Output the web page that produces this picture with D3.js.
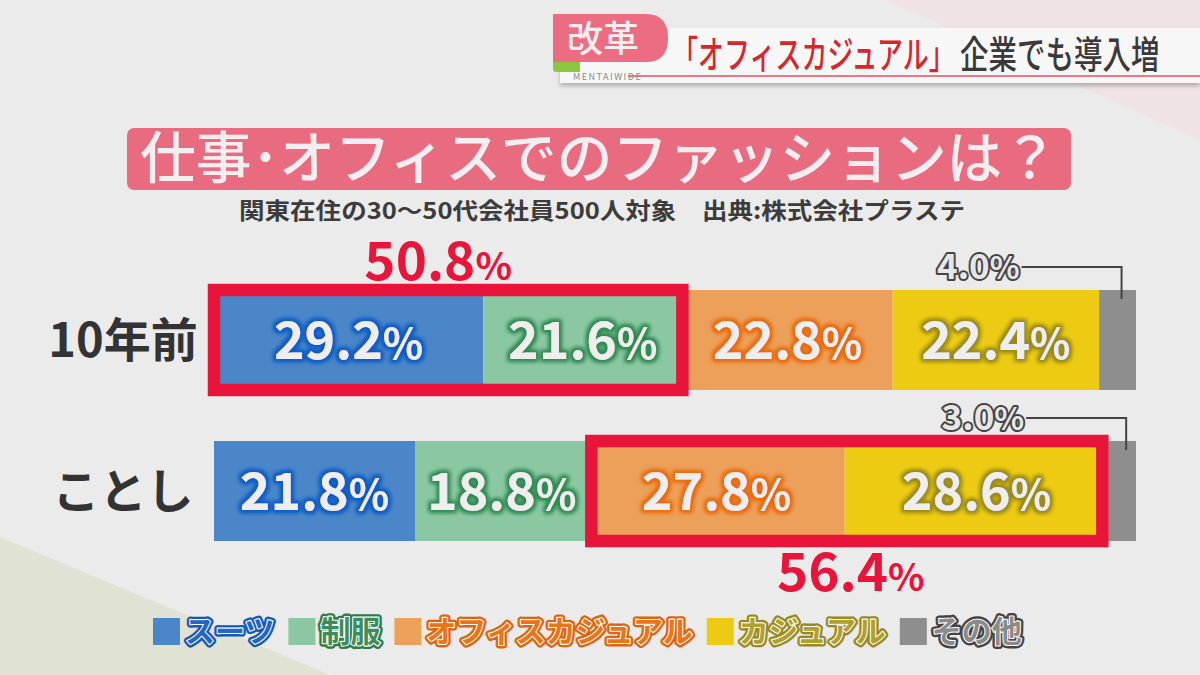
<!DOCTYPE html>
<html><head><meta charset="utf-8">
<script src="https://cdn.jsdelivr.net/npm/d3@7/dist/d3.min.js"></script>
<style>
html,body{margin:0;padding:0;background:#ebebeb;}
svg{display:block;font-family:"Noto Sans CJK JP","Noto Sans",sans-serif;}
</style></head>
<body>
<svg id="chart" width="1200" height="675"></svg>
<script>
// ---- data ----
const categories = ["10年前", "ことし"];
const seriesNames = ["スーツ", "制服", "オフィスカジュアル", "カジュアル", "その他"];
const values10YearsAgo = [29.2, 21.6, 22.8, 22.4, 4.0];
const valuesThisYear = [21.8, 18.8, 27.8, 28.6, 3.0];
const highlightSeries = [[0, 1], [2, 3]];      // series indices boxed per row
const highlightTotals = ["50.8", "56.4"];
const titleText = "仕事･オフィスでのファッションは？";
const subtitleText = "関東在住の30～50代会社員500人対象　出典:株式会社プラステ";
const headerTag = "改革";
const headerRed = "「オフィスカジュアル」";
const headerDark = "企業でも導入増";

const rowValues = [values10YearsAgo, valuesThisYear];
const barColors = ["#4a86c8", "#8bc7a2", "#eca05a", "#eccb12", "#8e8e8e"];
const glowColors = ["#0d5ac6", "#318a52", "#ea6a0c", "#9a8a1e", "#444"];
const legendFill = ["#2266c6", "#3d8c5a", "#ea7418", "#b0a030", "#8a8a8a"];
const legendStroke = ["#1558b8", "#2f7a4a", "#e0640c", "#9a8a1e", "#444"];
const RED = "#e8143a";

const svg = d3.select("#chart");
const W = 1200, H = 675;

// ---- background ----
svg.append("rect").attr("width", W).attr("height", H).attr("fill", "#ebebeb");
svg.append("polygon").attr("points", "885,0 1200,0 1200,140").attr("fill", "#f0e3e6");
svg.append("polygon").attr("points", "0,537 330,675 0,675").attr("fill", "#e0e3d3");

// ---- defs: glow filters ----
const defs = svg.append("defs");
glowColors.forEach((c, i) => {
  const f = defs.append("filter").attr("id", "glow" + i)
    .attr("x", "-20%").attr("y", "-50%").attr("width", "140%").attr("height", "200%");
  f.append("feMorphology").attr("in", "SourceAlpha").attr("operator", "dilate").attr("radius", 2.2).attr("result", "d");
  f.append("feGaussianBlur").attr("in", "d").attr("stdDeviation", 2).attr("result", "b");
  f.append("feFlood").attr("flood-color", c).attr("result", "c");
  f.append("feComposite").attr("in", "c").attr("in2", "b").attr("operator", "in").attr("result", "g");
  const m = f.append("feMerge");
  m.append("feMergeNode").attr("in", "g");
  m.append("feMergeNode").attr("in", "g");
  m.append("feMergeNode").attr("in", "SourceGraphic");
});
const sh = defs.append("filter").attr("id", "shadow").attr("x", "-5%").attr("y", "-30%").attr("width", "110%").attr("height", "170%");
sh.append("feDropShadow").attr("dx", 0).attr("dy", 3).attr("stdDeviation", 2).attr("flood-color", "#000").attr("flood-opacity", 0.25);

// ---- header ----
const hdr = svg.append("g");
hdr.append("rect").attr("x", 560).attr("y", 28).attr("width", 640).attr("height", 55)
  .attr("fill", "#f7f7f7").attr("filter", "url(#shadow)");
hdr.append("line").attr("x1", 628).attr("x2", 1200).attr("y1", 76).attr("y2", 76)
  .attr("stroke", "#e0505e").attr("stroke-width", 1.5);
hdr.append("path").attr("d", "M553,58 L580,58 L580,72 L556,72 Q553,72 553,69 Z").attr("fill", "#8cc640");
hdr.append("text").attr("x", 573).attr("y", 80).attr("font-size", 9).attr("fill", "#8a8a8a")
  .attr("letter-spacing", 1.5).text("MENTAIWIDE");
hdr.append("path").attr("d", "M553,14 L646,14 Q668,14 668,38 Q668,62 646,62 L553,62 Z").attr("fill", "#ec6d82");
hdr.append("text").attr("x", 603).attr("y", 52).attr("text-anchor", "middle").attr("font-size", 36)
  .attr("font-weight", 500).attr("fill", "#f8eef0").text(headerTag);
// condensed header text: narrow font-size, stretched vertically
hdr.append("text").attr("transform", "translate(672,68) scale(1,1.45)")
  .attr("font-size", 26).attr("font-weight", 500).attr("fill", "#d8262e").text(headerRed);
hdr.append("text").attr("transform", "translate(960,68) scale(1,1.33)")
  .attr("font-size", 28.5).attr("font-weight", 500).attr("fill", "#3a3a3a").text(headerDark);

// ---- title banner ----
svg.append("rect").attr("x", 127).attr("y", 128).attr("width", 944).attr("height", 62).attr("rx", 7)
  .attr("fill", "#e96b80");
svg.append("text").attr("x", 140).attr("y", 178).attr("font-size", 56).attr("font-weight", 500)
  .attr("fill", "#f4eef0").attr("textLength", 918).attr("lengthAdjust", "spacingAndGlyphs").text(titleText);
svg.append("text").attr("x", 239).attr("y", 219).attr("font-size", 23).attr("font-weight", 700)
  .attr("fill", "#3c3c3c").attr("textLength", 726).attr("lengthAdjust", "spacingAndGlyphs").text(subtitleText);

// ---- scales ----
const x = d3.scaleLinear().domain([0, 100]).range([214, 1136]);
const y = d3.scaleBand().domain(categories).range([290, 541]).paddingInner(0.338).paddingOuter(0);

const rows = categories.map((cat, r) => {
  let acc = 0;
  const segs = rowValues[r].map((v, i) => {
    const s = { cat, r, i, v, x0: acc, x1: acc + v };
    acc += v;
    return s;
  });
  return { cat, r, segs };
});

// ---- category labels ----
svg.selectAll("text.cat").data(categories).join("text").attr("class", "cat")
  .attr("x", 123).attr("y", d => y(d) + y.bandwidth() / 2 + 17)
  .attr("text-anchor", "middle").attr("font-size", 47).attr("font-weight", 700)
  .attr("fill", "#333").text(d => d);

// ---- bars ----
const rowG = svg.selectAll("g.row").data(rows).join("g").attr("class", "row");
rowG.selectAll("rect.seg").data(d => d.segs).join("rect").attr("class", "seg")
  .attr("x", d => x(d.x0)).attr("y", d => y(d.cat))
  .attr("width", d => x(d.x1) - x(d.x0)).attr("height", y.bandwidth())
  .attr("fill", d => barColors[d.i]);

// in-bar labels (not for その他)
const pct = (sel, num, pctSize) => {
  sel.append("tspan").text(num);
  sel.append("tspan").attr("font-size", pctSize).text("%");
};
rowG.selectAll("text.val").data(d => d.segs.filter(s => s.i < 4)).join("text").attr("class", "val")
  .attr("x", d => x((d.x0 + d.x1) / 2)).attr("y", d => y(d.cat) + y.bandwidth() / 2 + 19)
  .attr("text-anchor", "middle").attr("font-size", 52).attr("font-weight", 700)
  .attr("fill", "#eeeeee").attr("filter", d => "url(#glow" + d.i + ")")
  .each(function (d) { pct(d3.select(this), d.v.toFixed(1), 42); });

// その他 labels with leader line
rows.forEach(row => {
  const s = row.segs[4];
  const lx = x((s.x0 + s.x1) / 2) + 4;
  const top = y(row.cat);
  const ly = top - 23;
  svg.append("path").attr("d", `M${lx - 100},${ly} L${lx},${ly} L${lx},${top + 9}`)
    .attr("fill", "none").attr("stroke", "#444").attr("stroke-width", 2);
  const t = svg.append("text").attr("x", lx - 102).attr("y", ly + 12).attr("text-anchor", "end")
    .attr("font-size", 35).attr("font-weight", 700).attr("fill", "#e6e6e6")
    .attr("stroke", "#444").attr("stroke-width", 4).attr("paint-order", "stroke")
    .attr("stroke-linejoin", "round");
  pct(t, s.v.toFixed(1), 31);
});

// ---- highlight boxes ----
rows.forEach((row, r) => {
  const idx = highlightSeries[r];
  const a = row.segs[idx[0]].x0, b = row.segs[idx[idx.length - 1]].x1;
  const x0 = x(a) + (r === 1 ? 3 : 0), x1 = x(b) - (r === 1 ? 6 : 0);
  const top = y(row.cat), bot = top + y.bandwidth();
  svg.append("rect").attr("x", x0).attr("y", top).attr("width", x1 - x0).attr("height", bot - top)
    .attr("fill", "none").attr("stroke", RED).attr("stroke-width", 12.5);
  const ty = r === 0 ? top - 10 : bot + 50;
  const t = svg.append("text").attr("x", (x0 + x1) / 2 - 10 + r * 14).attr("y", ty).attr("text-anchor", "middle")
    .attr("font-size", 53).attr("font-weight", 700).attr("fill", RED);
  pct(t, highlightTotals[r], 38);
});

// ---- legend ----
const lg = svg.append("g").attr("font-size", 30).attr("font-weight", 700);
let lx = 153;
seriesNames.forEach((name, i) => {
  lg.append("rect").attr("x", lx).attr("y", 618).attr("width", 27).attr("height", 27).attr("fill", barColors[i]);
  lx += 27 + 5;
  lg.append("text").attr("x", lx).attr("y", 642).attr("fill", "none")
    .attr("stroke", legendStroke[i]).attr("stroke-width", 7).attr("stroke-linejoin", "round").text(name);
  const t = lg.append("text").attr("x", lx).attr("y", 642).attr("fill", legendFill[i])
    .attr("stroke", "#ffffff").attr("stroke-width", 2.2).attr("paint-order", "stroke")
    .attr("stroke-linejoin", "round").text(name);
  lx += t.node().getComputedTextLength() + 14;
});
</script>
</body></html>
